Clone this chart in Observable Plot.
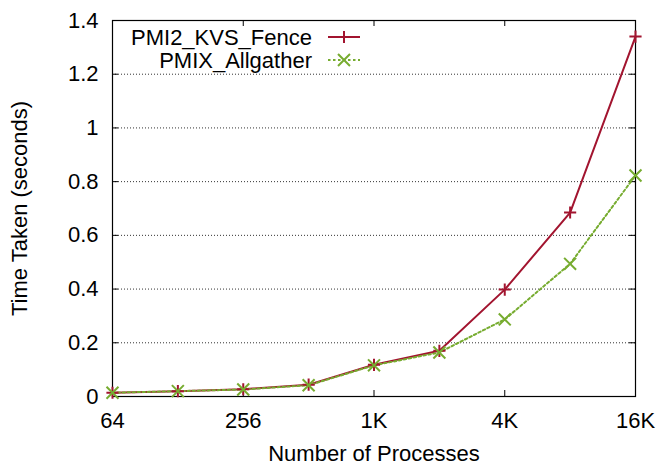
<!DOCTYPE html>
<html>
<head>
<meta charset="utf-8">
<script src="https://cdn.jsdelivr.net/npm/d3@7"></script>
<script src="https://cdn.jsdelivr.net/npm/@observablehq/plot@0.6"></script>
<style>
  html, body { margin: 0; padding: 0; background: #fff; }
  #chart { position: relative; width: 658px; height: 464px; }
</style>
</head>
<body>
<div id="chart"></div>
<script>
const processes = [64, 128, 256, 512, 1024, 2048, 4096, 8192, 16384];
const pmi2Fence = [0.014, 0.020, 0.027, 0.044, 0.118, 0.170, 0.398, 0.685, 1.340];
const pmixAllgather = [0.014, 0.020, 0.026, 0.042, 0.116, 0.164, 0.287, 0.494, 0.823];
const seriesNames = ["PMI2_KVS_Fence", "PMIX_Allgather"];
const xTicks = [64, 256, 1024, 4096, 16384];
const xTickLabels = ["64", "256", "1K", "4K", "16K"];
const yTicks = [0, 0.2, 0.4, 0.6, 0.8, 1, 1.2, 1.4];
const gridTicks = [0.2, 0.4, 0.6, 0.8, 1, 1.2];

const colors = ["#a2142f", "#77ac30"];
const W = 658, H = 464;
const mL = 112, mR = 23, mT = 20, mB = 68;
const pw = W - mL - mR, ph = H - mT - mB;
const TL = 6;
const FS = 22;
const FONT = "'Liberation Sans', Arial, sans-serif";
const rPlus = 4, rTimes = 5.5;

const rows = [];
processes.forEach((p, i) => {
  rows.push({p, v: pmi2Fence[i], s: seriesNames[0]});
  rows.push({p, v: pmixAllgather[i], s: seriesNames[1]});
});
const r1 = rows.filter(d => d.s === seriesNames[0]);
const r2 = rows.filter(d => d.s === seriesNames[1]);

const fmt = d => xTickLabels[xTicks.indexOf(d)] ?? "";

const chart = Plot.plot({
  width: W, height: H,
  marginLeft: mL, marginRight: mR, marginTop: mT, marginBottom: mB,
  style: {fontFamily: FONT, fontSize: FS + "px", color: "#000", background: "#fff"},
  x: {type: "log", base: 2, domain: [64, 16384]},
  y: {domain: [0, 1.4]},
  marks: [
    Plot.ruleY(gridTicks, {stroke: "#333", strokeWidth: 1, strokeDasharray: "1,2"}),
    Plot.axisX(xTicks, {tickSize: 0, tickPadding: 16, tickFormat: fmt, fontSize: FS,
      label: "Number of Processes", labelAnchor: "center", labelArrow: "none", labelOffset: 64}),
    Plot.axisY(yTicks, {tickSize: 0, tickPadding: 14, tickFormat: d => String(d), fontSize: FS,
      label: "Time Taken (seconds)", labelAnchor: "center", labelArrow: "none", labelOffset: 101}),
    Plot.tickX(xTicks, {x: d => d, insetTop: ph - TL, stroke: "#000", strokeWidth: 1}),
    Plot.tickX(xTicks, {x: d => d, insetBottom: ph - TL, stroke: "#000", strokeWidth: 1}),
    Plot.tickY(yTicks, {y: d => d, insetRight: pw - TL, stroke: "#000", strokeWidth: 1}),
    Plot.tickY(yTicks, {y: d => d, insetLeft: pw - TL, stroke: "#000", strokeWidth: 1}),
    Plot.frame({stroke: "#000", strokeWidth: 1.2}),
    Plot.line(r1, {x: "p", y: "v", stroke: colors[0], strokeWidth: 2}),
    Plot.line(r2, {x: "p", y: "v", stroke: colors[1], strokeWidth: 2, strokeDasharray: "2.5,2.5"}),
    Plot.dot(r1, {x: "p", y: "v", symbol: "plus", stroke: colors[0], strokeWidth: 2, r: rPlus}),
    Plot.dot(r2, {x: "p", y: "v", symbol: "times", stroke: colors[1], strokeWidth: 2, r: rTimes})
  ]
});

// legend
const svg = d3.select(chart);
const lg = svg.append("g").attr("font-family", FONT).attr("font-size", FS);
const sym = [d3.symbolPlus, d3.symbolTimes];
const rs = [rPlus, rTimes];
seriesNames.forEach((name, i) => {
  const y = 37 + i * 23;
  lg.append("text").attr("x", 312).attr("y", y).attr("dy", "0.35em").attr("text-anchor", "end").text(name);
  lg.append("line").attr("x1", 328).attr("x2", 360).attr("y1", y).attr("y2", y)
    .attr("stroke", colors[i]).attr("stroke-width", 2).attr("stroke-dasharray", i ? "2.5,2.5" : null);
  lg.append("path").attr("transform", `translate(344,${y})`).attr("d", d3.symbol(sym[i], Math.PI * rs[i] * rs[i])())
    .attr("fill", "none").attr("stroke", colors[i]).attr("stroke-width", 2);
});

document.getElementById("chart").appendChild(chart);
</script>
</body>
</html>
